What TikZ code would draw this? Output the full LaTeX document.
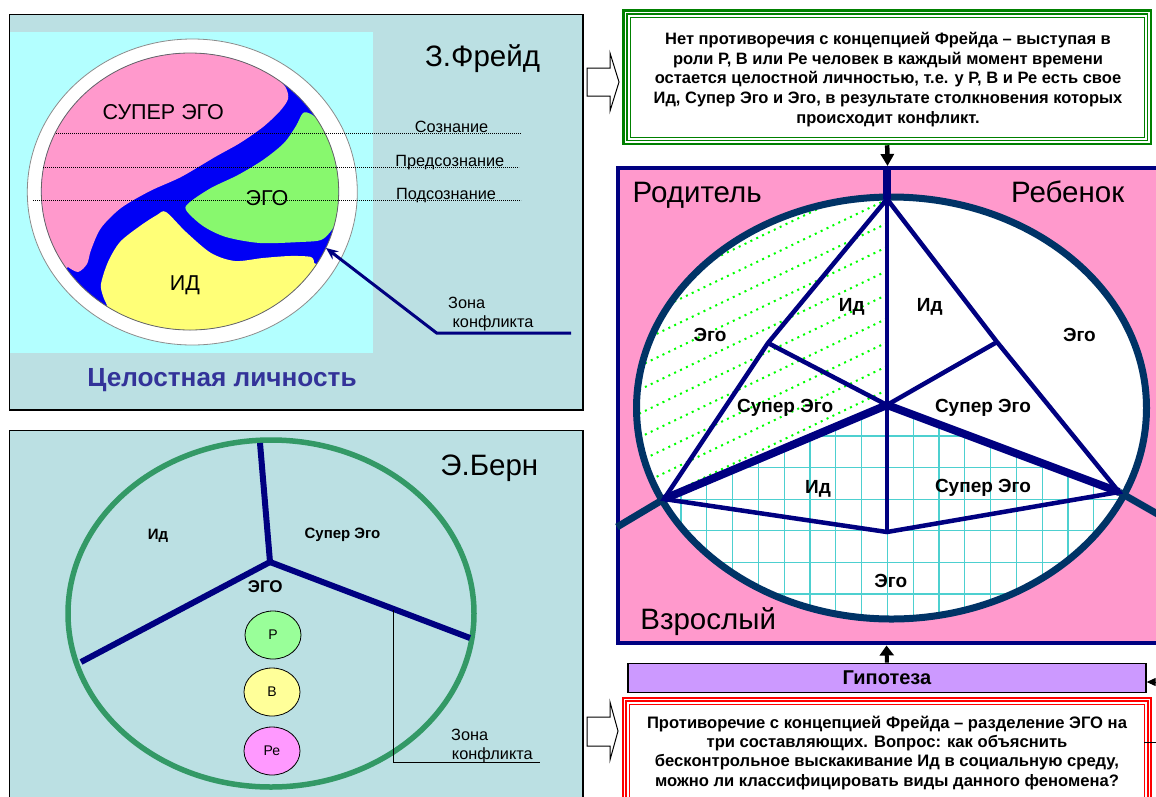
\documentclass[tikz,border=0pt]{standalone}
\usepackage{fontspec}
\setmainfont{Liberation Sans}
\usetikzlibrary{arrows.meta,shapes.geometric}
\definecolor{panelbg}{RGB}{187,224,227}
\definecolor{lightcyan}{RGB}{179,255,255}
\definecolor{fpink}{RGB}{255,153,204}
\definecolor{fgreen}{RGB}{136,248,110}
\definecolor{fyellow}{RGB}{255,255,119}
\definecolor{fblue}{RGB}{0,0,245}
\definecolor{navy}{RGB}{0,0,128}
\definecolor{dblue}{RGB}{0,51,102}
\definecolor{slate}{RGB}{51,51,153}
\definecolor{bgreen}{RGB}{51,153,102}
\definecolor{gridc}{RGB}{77,208,208}
\definecolor{hatchc}{RGB}{0,255,0}
\definecolor{lav}{RGB}{204,153,255}
\definecolor{boxgreen}{RGB}{0,128,0}
\definecolor{boxred}{RGB}{255,0,0}
\definecolor{pP}{RGB}{153,255,153}
\definecolor{pB}{RGB}{255,255,153}
\definecolor{pRe}{RGB}{255,153,255}
\newcommand\fsz[2]{\fontsize{#1}{#2}\selectfont}
\tikzset{
 txt/.style={inner sep=0pt, anchor=base},
 big/.style={txt, font=\fsz{29.5}{33}},
 fr/.style={txt, font=\fsz{21.5}{24}},
 sm/.style={txt, font=\fsz{16.3}{19}},
 lab/.style={txt, font=\bfseries\fsz{19}{22}},
 blab/.style={txt, font=\bfseries\fsz{15}{18}},
 panel/.style={draw=black, line width=1.2pt, fill=panelbg},
 spoke/.style={navy, line width=6pt},
 tri/.style={navy, line width=4.5pt},
 trithick/.style={navy, line width=8pt},
 outl/.style={dblue, line width=7pt},
 hatch/.style={hatchc, line width=2pt, dash pattern=on 2pt off 4.5pt},
 gridl/.style={gridc, line width=1.2pt},
 hollow/.style={draw=black, fill=white, line width=1pt},
 role/.style={ellipse, draw=black, line width=0.8pt, minimum width=56pt, minimum height=48pt, inner sep=0pt, font=\fsz{14}{16}},
 boxtext/.style={inner sep=0pt, align=center, font=\bfseries\fsz{16.5}{19.6}},
 dots/.style={line width=0.7pt, dash pattern=on 0.8pt off 1.2pt},
}
\begin{document}
\begin{tikzpicture}[x=1pt,y=-1pt]
\useasboundingbox (0,0) rectangle (1156,796);
\fill[white] (0,0) rectangle (1156,796);

% ================= Freud panel
\draw[panel] (9.5,14.5) rectangle (583,410);
\fill[lightcyan] (10.2,32) rectangle (372.6,353);
\filldraw[fill=white, draw=black!45, line width=0.8pt] (192.3,192) ellipse [x radius=165pt, y radius=153pt];
\begin{scope}
 \clip (190,191.5) ellipse [x radius=148.7pt, y radius=138.5pt];
 \fill[fblue] (30,40) rectangle (350,340);
 \fill[fpink] (0,0) -- (277,0) -- (277,60) -- plot[smooth] coordinates {(276.6,76.7) (286,88) (288,99) (280,111) (263,127) (240,143) (215,157) (181,177) (150,191) (121,208) (101,228) (91,250) (87,264) (78,272) (68,267)} -- (40,292) -- (0,300) -- cycle;
 \fill[fgreen] (340,60) -- plot[smooth] coordinates {(321,122) (311,114) (303,113) (296,126) (284,143) (263,160) (238,175) (211,188) (190,202) (186,210) (203,226) (226,237) (260,243) (300,242) (321,240) (331,231) (336,222)} -- (380,222) -- (380,60) -- cycle;
 \fill[fyellow] (330,270) -- plot[smooth] coordinates {(314,263) (311,257) (290,256) (263,258) (235,261) (211,253) (186,232) (166,212) (157,215) (140,226) (120,242) (108,262) (101,284) (103,296) (107,305)} -- (90,340) -- (330,340) -- cycle;
\end{scope}
\draw[black!60, line width=0.8pt] (190,191.5) ellipse [x radius=148.7pt, y radius=138.5pt];

\draw[dots] (56,133) -- (521,133);
\draw[dots] (43,167) -- (519,167);
\draw[dots] (33,200) -- (521,200);
\node[sm] (soz) at (451.6,132) {Сознание};
\node[sm] (predsoz) at (449.8,166) {Предсознание};
\node[sm] (podsoz) at (446,199.5) {Подсознание};

\node[fr] (fsuper) at (163.3,119.3) {СУПЕР ЭГО};
\node[fr] (fego) at (267,205) {ЭГО};
\node[fr] (fid) at (185,290) {ИД};
\node[big] (freud) at (482.6,66.7) {З.Фрейд};

\node[sm] (fzona) at (466.7,308.3) {Зона};
\node[sm] (fkonf) at (493,327.7) {конфликта};
\coordinate (fz1) at (571,333);
\coordinate (fz2) at (436.6,333);
\coordinate (fztip) at (326,248);
\draw[navy, line width=3pt, -{Stealth[length=12pt,width=10pt]}] (fz1) -- (fz2) -- (fztip);

\node[txt, slate, font=\bfseries\fsz{26.2}{30}] (whole) at (222,386.7) {Целостная личность};

% ================= Bern panel
\draw[panel] (9.5,430.5) rectangle (583,812);
\draw[bgreen, line width=5.5pt] (271,613.5) ellipse [x radius=203pt, y radius=173.5pt];
\coordinate (bc) at (270,562);
\coordinate (bt) at (260,443);
\coordinate (bl) at (81,662);
\coordinate (br) at (470,638);
\draw[spoke] (bt) -- (bc) -- (bl);
\draw[spoke] (bc) -- (br);
\node[blab] (bid) at (158,539.3) {Ид};
\node[blab] (bsup) at (342.5,538.3) {Супер Эго};
\node[txt, font=\bfseries\fsz{17}{20}] (bego) at (265.3,592.3) {ЭГО};
\node[role, fill=pP] (rP) at (273,635) {Р};
\node[role, fill=pB] (rB) at (272,692) {В};
\node[role, fill=pRe] (rRe) at (272,751) {Ре};
\node[big] (bern) at (489.3,475) {Э.Берн};
\node[sm] (bzona) at (469.7,740) {Зона};
\node[sm] (bkonf) at (492.3,759.3) {конфликта};
\coordinate (bz1) at (393,610);
\coordinate (bz2) at (393,762);
\coordinate (bz3) at (540,762);
\draw[line width=1pt] (bz1) -- (bz2) -- (bz3);

% ================= hollow arrows
\draw[hollow] (587,68) -- (610,68) -- (610,53) -- (619,82) -- (610,111) -- (610,96) -- (587,96) -- cycle;
\draw[hollow] (587,717) -- (610,717) -- (610,702) -- (618,731) -- (610,760) -- (610,746) -- (587,746) -- cycle;

% ================= green text box
\node[minimum width=529.7pt, minimum height=135.7pt, inner sep=0pt] (gbox) at (887.2,77.2) {};
\draw[boxgreen, line width=2.7pt] ([shift={(1.35,1.35)}]gbox.north west) rectangle ([shift={(-1.35,-1.35)}]gbox.south east);
\draw[boxgreen, line width=1.4pt] ([shift={(4.7,4.7)}]gbox.north west) rectangle ([shift={(-4.7,-4.7)}]gbox.south east);
\draw[boxgreen, line width=1.3pt] ([shift={(8,8)}]gbox.north west) rectangle ([shift={(-8,-8)}]gbox.south east);
\node[boxtext] (gtext) at (888,79.5) {Нет противоречия с концепцией Фрейда – выступая в\\роли Р, В или Ре человек в каждый момент времени\\остается целостной личностью, т.е. у Р, В и Ре есть свое\\Ид, Супер Эго и Эго, в результате столкновения которых\\происходит конфликт.};

% ================= big right panel
\draw[fill=fpink, draw=navy, line width=4.5pt] (618,168) rectangle (1185,643);
\draw[line width=4.5pt, -{Triangle[length=12pt,width=13pt]}] (gbox.south) -- (887.5,166);

\coordinate (EC) at (891.5,408);
\fill[white] (EC) ellipse [x radius=255pt, y radius=211pt];
\coordinate (T) at (887,168);
\coordinate (A) at (887,199);
\coordinate (M1) at (768,343);
\coordinate (L) at (664,499);
\coordinate (O) at (887,405);
\coordinate (B) at (887,532);
\coordinate (M2) at (997,342);
\coordinate (R) at (1119,492);
\coordinate (LL) at (617,527);
\coordinate (RR) at (1175,524);

% hatch (parent)
\begin{scope}
 \clip (EC) ellipse [x radius=255pt, y radius=211pt];
 \clip (887,150) -- (O) -- (L) -- (560,560) -- (560,150) -- cycle;
 \foreach \k in {-10,...,14} \draw[hatch] (887,223.3+23.8*\k) -- ++(-300,144);
\end{scope}
% grid (adult)
\begin{scope}
 \clip (EC) ellipse [x radius=255pt, y radius=211pt];
 \clip (560,530) -- (L) -- (O) -- (R) -- (1200,530) -- (1200,700) -- (560,700) -- cycle;
 \foreach \i in {-3,...,18} \draw[gridl] (706.7+25.8*\i,380) -- ++(0,300);
 \foreach \j in {0,...,7} \draw[gridl] (600,436+31.6*\j) -- ++(600,0);
\end{scope}

\draw[outl] (EC) ellipse [x radius=255pt, y radius=211pt];
\draw[outl] (L) -- (LL);
\draw[outl] (R) -- (RR);

\draw[trithick] (T) -- (A);
\draw[tri] (A) -- (O) -- (B);
\draw[tri] (A) -- (M1) -- (L) -- (B) -- (R) -- (M2) -- cycle;
\draw[tri] (M1) -- (O) -- (M2);
\draw[trithick] (L) -- (O) -- (R);

\node[big] (rodit) at (697.2,202.7) {Родитель};
\node[big] (rebenok) at (1067.7,202.7) {Ребенок};
\node[big] (vzr) at (708.2,629.3) {Взрослый};

\node[lab] (pego) at (710,341.7) {Эго};
\node[lab] (pid) at (851.8,311.7) {Ид};
\node[lab] (psup) at (785.1,412.3) {Супер Эго};
\node[lab] (cid) at (929.8,311.7) {Ид};
\node[lab] (cego) at (1079.4,341.7) {Эго};
\node[lab] (csup) at (983,412.3) {Супер Эго};
\node[lab] (aid) at (818,493.3) {Ид};
\node[lab] (asup) at (983,492.3) {Супер Эго};
\node[lab] (aego) at (890.8,587.7) {Эго};

% ================= hypothesis
\node[draw=black, fill=lav, line width=1.5pt, minimum width=518pt, minimum height=29pt, inner sep=0pt, font=\bfseries\fsz{20}{23}] (hyp) at (886.9,677.8) {Гипотеза};
\draw[line width=4pt, -{Triangle[length=10pt,width=14pt]}] (hyp.north) -- (886.5,645.5);

% ================= red text box
\node[minimum width=530.3pt, minimum height=120pt, inner sep=0pt] (redbox) at (886.85,756.7) {};
\draw[boxred, line width=2.2pt] ([shift={(1.1,1.1)}]redbox.north west) rectangle ([shift={(-1.1,-1.1)}]redbox.south east);
\draw[boxred, line width=1.4pt] ([shift={(4.3,4.3)}]redbox.north west) rectangle ([shift={(-4.3,-4.3)}]redbox.south east);
\draw[boxred, line width=1.4pt] ([shift={(8,8)}]redbox.north west) rectangle ([shift={(-8,-8)}]redbox.south east);
\node[boxtext, font=\bfseries\fsz{16.6}{19.2}] (rtext) at (887,752.8) {Противоречие с концепцией Фрейда – разделение ЭГО на\\три составляющих. Вопрос: как объяснить\\бесконтрольное выскакивание Ид в социальную среду,\\можно ли классифицировать виды данного феномена?};

\coordinate (c1) at (1144,742);
\coordinate (c2) at (1185,742);
\coordinate (c3) at (1185,682);
\draw[line width=1pt, -{Triangle[length=9pt,width=8pt]}] (c1) -- (c2) -- (c3) -- (hyp.east |- c3);
\end{tikzpicture}
\end{document}
